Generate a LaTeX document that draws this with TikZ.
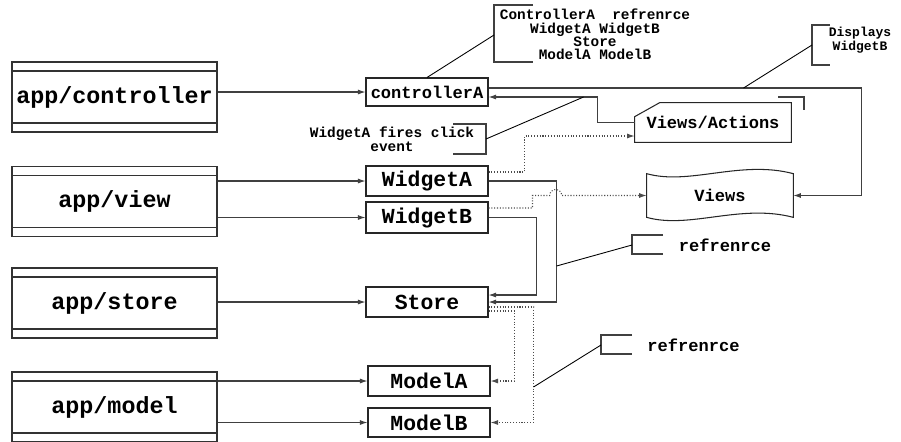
\documentclass[tikz,border=0pt]{standalone}
\usepackage{fontspec}
\setmonofont{Liberation Mono}
\usetikzlibrary{arrows.meta,calc}

\newcommand{\pkgfont}{\ttfamily\bfseries\fontsize{13.3}{15}\selectfont}
\newcommand{\cmpfont}{\ttfamily\bfseries\fontsize{12.2}{14}\selectfont}
\newcommand{\midfont}{\ttfamily\bfseries\fontsize{9.7}{12}\selectfont}
\newcommand{\cmtfont}{\ttfamily\bfseries\fontsize{8.2}{7.2}\selectfont}

\begin{document}
\begin{tikzpicture}[
    x=0.02cm, y=-0.02cm,
    >={Latex[length=1.5mm,width=1mm]},
    line/.style={draw=black!75, line width=0.6pt},
    dots/.style={draw=black!70, line width=0.6pt, densely dotted},
    pkg/.style={
        rectangle,
        draw=black!80,
        line width=0.6pt,
        minimum width=4.1cm,
        minimum height=1.4cm,
        inner sep=0pt,
        font=\pkgfont,
        path picture={
            \draw[black!80,line width=0.6pt]
                ([yshift=-0.18cm]path picture bounding box.north west) --
                ([yshift=-0.18cm]path picture bounding box.north east);
            \draw[black!80,line width=0.6pt]
                ([yshift=0.18cm]path picture bounding box.south west) --
                ([yshift=0.18cm]path picture bounding box.south east);
        }
    },
    comp/.style={
        rectangle,
        draw=black!85,
        line width=0.6pt,
        minimum width=2.44cm,
        minimum height=0.6cm,
        inner sep=0pt,
        font=\cmpfont
    },
    shapebox/.style={
        minimum width=#1,
        inner sep=0pt,
        font=\midfont
    },
    cmt/.style={
        inner sep=0pt,
        align=center,
        font=\cmtfont
    }
]
\useasboundingbox (0,0) rectangle (901,441);

% Packages
\node[pkg] (pkgctrl) at (114.5,97) {app/controller};
\node[pkg] (pkgview) at (114.5,201.5) {app/view};
\node[pkg] (pkgstore) at (114.5,303) {app/store};
\node[pkg] (pkgmodel) at (114.5,407) {app/model};

% Components
\node[comp, minimum height=0.56cm, font=\midfont] (ctrlA) at (427,92) {controllerA};
\node[comp] (wA) at (427,181) {WidgetA};
\node[comp, minimum height=0.62cm] (wB) at (427,217.5) {WidgetB};
\node[comp] (store) at (427,302) {Store};
\node[comp] (mA) at (429,381) {ModelA};
\node[comp, minimum height=0.58cm] (mB) at (429,422.5) {ModelB};

\draw[line,->] (pkgctrl.east |- ctrlA) -- (ctrlA);
\draw[line,->] (pkgview.east |- wA) -- (wA);
\draw[line,->] (pkgview.east |- wB) -- (wB);
\draw[line,->] (pkgstore.east |- store) -- (store);
\draw[line,->] (pkgmodel.east |- mA) -- (mA);
\draw[line,->] (pkgmodel.east |- mB) -- (mB);

% Views/Actions and Views
\node[shapebox=3.12cm, minimum height=0.78cm] (actions) at (713,122.5) {Views/Actions};
\draw[black!85, line width=0.6pt] ($(actions.north west)+(0,14)$) -- ($(actions.north west)+(25,0)$)
    -- (actions.north east) -- (actions.south east) -- (actions.south west) -- cycle;

\node[shapebox=2.92cm, minimum height=0.86cm] (views) at (720,195.5) {Views};
\draw[black!85, line width=0.6pt] (views.north west) .. controls +(43,12) and +(-53,-14) .. (views.north east)
    -- (views.south east) .. controls +(-53,-14) and +(43,12) .. (views.south west) -- cycle;

% controller links
\draw[line,->] ($(ctrlA.east)+(0,-4)$) -- ++(373,0) |- (views.east);
\draw[line,->] (actions.west) -- ++(-37,0) |- ($(ctrlA.east)+(0,5)$);
\draw[dots,->] ($(wA.east)+(0,-9)$) -- ++(36,0) |- ($(actions.west)+(0,13.5)$);
\draw[dots,->] ($(wB.east)+(0,-9.5)$) -- ++(44,0) |- ($(views.west)+(-97,0)$)
    arc[start angle=180,end angle=0,radius=0.12cm] -- (views.west);

% store links
\draw[line,->] (wA.east) -- ++(68,0) |- (store.east);
\draw[line,->] (wB.east) -- ++(48,0) |- ($(store.east)+(0,-7)$);
\draw[dots,->] ($(store.east)+(0,9)$) -- ++(26,0) |- (mA.east);
\draw[dots,->] ($(store.east)+(0,5)$) -- ++(45,0) |- (mB.east);
\draw[line] (778,97) -| (804,110);

% Comments
\coordinate (disppt) at ($(ctrlA.east)+(255,-4)$);
\coordinate (clickpt) at ($(ctrlA.east)+(95,5)$);
\coordinate (refpt1) at ($(wA.east)+(68,85)$);
\coordinate (refpt2) at ($(store.east)+(45,85)$);

\node[cmt, font=\ttfamily\bfseries\fontsize{8.2}{7.5}\selectfont] (cmtref) at (595,34.5)
    {ControllerA~~refrenrce\\WidgetA WidgetB\\Store\\ModelA ModelB};
\draw[line] (533,5) -| (494,62) -- (533,62);
\coordinate (c1) at (494,35);
\draw[line width=0.5pt] (c1) -- (ctrlA.north);

\node[cmt, font=\ttfamily\bfseries\fontsize{7.4}{8}\selectfont] (cmtdisp) at (860,40) {Displays\\WidgetB};
\draw[line] (830,25) -| (812,65) -- (830,65);
\coordinate (c2) at (812,45);
\draw[line width=0.5pt] (c2) -- (disppt);

\node[cmt, font=\ttfamily\bfseries\fontsize{8.2}{6.8}\selectfont] (cmtclick) at (392,139) {WidgetA fires click\\event};
\draw[line] (453,124) -| (486,154) -- (453,154);
\coordinate (c3) at (486,139);
\draw[line width=0.5pt] (c3) -- (clickpt);

\node[cmt, font=\midfont] (cmtref1) at (725,245) {refrenrce};
\draw[line] (663,235) -| (632,254) -- (663,254);
\coordinate (c4) at (632,245);
\draw[line width=0.5pt] (c4) -- (refpt1);

\node[cmt, font=\midfont] (cmtref2) at (693.5,345) {refrenrce};
\draw[line] (632,335) -| (601,354) -- (632,354);
\coordinate (c5) at (601,345);
\draw[line width=0.5pt] (c5) -- (refpt2);

\end{tikzpicture}
\end{document}
